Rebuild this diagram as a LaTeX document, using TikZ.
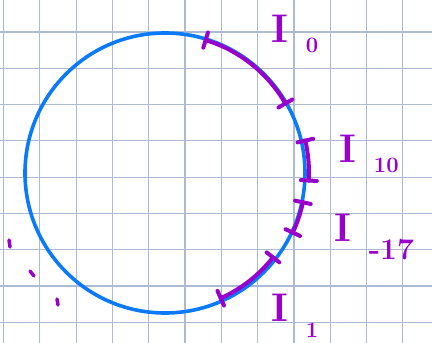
\documentclass[tikz,border=0pt]{standalone}
\usepackage{tikz}
\usetikzlibrary{calc}
\definecolor{sketchblue}{RGB}{10,122,250}
\definecolor{sketchpurple}{RGB}{153,0,204}
\definecolor{sketchgrid}{RGB}{172,186,212}
\tikzset{
    gridlines/.style={draw=sketchgrid, line width=1.2pt},
    bigcircle/.style={draw=sketchblue, line width=3.6pt},
    penarc/.style={draw=sketchpurple, line width=4pt, line cap=round},
    penlabel/.style={text=sketchpurple, anchor=base west, inner sep=0pt,
        font=\fontsize{40}{40}\selectfont\bfseries}
}
% I with a hand-lowered index: #1 index, #2 drop, #3 size
\newcommand{\isub}[3]{I\hspace{18pt}\raisebox{-#2}{\fontsize{#3}{#3}\selectfont #1}}

\begin{document}
\begin{tikzpicture}[x=1pt, y=1pt]
    \useasboundingbox (0,0) rectangle (432,343);
    \fill[white] (0,0) rectangle (432,343);
    \begin{scope}
        \clip (0,0) rectangle (432,343);
        \draw[gridlines, xshift=3.5pt, yshift=20.6pt]
            (-3.5,-20.6) grid[step=36.3pt] (428.5,322.4);
    \end{scope}

    \coordinate (ctr) at (165,170);
    \draw[bigcircle] (ctr) circle[radius=140];

    % marked arcs, with a tick at each end
    \foreach \from/\to/\rad in {73/30/139, 13/-3/144, -12/-25/141, -38/-66/137} {
        \draw[penarc] ($(ctr)+({\from}:{\rad})$)
            arc[start angle=\from, end angle=\to, radius=\rad];
        \draw[penarc] ($(ctr)+({\from}:{\rad-8})$) -- ($(ctr)+({\from}:{\rad+8})$);
        \draw[penarc] ($(ctr)+({\to}:{\rad-8})$) -- ($(ctr)+({\to}:{\rad+8})$);
    }

    \node[penlabel] (izero) at (271,300) {\isub{0}{10pt}{22}};
    \node[penlabel] (iten) at (339,180) {\isub{10}{10pt}{22}};
    \node[penlabel] (iminus) at (334,101) {\isub{-17}{18pt}{30}};
    \node[penlabel] (ione) at (271,21) {\isub{1}{16pt}{22}};

    % stray dots
    \draw[penarc, line width=3.5pt] (9,103) -- (10,96);
    \draw[penarc, line width=3.5pt] (30,72) -- (34,67);
    \draw[penarc, line width=3.5pt] (57,44) -- (58,38);
\end{tikzpicture}
\end{document}
